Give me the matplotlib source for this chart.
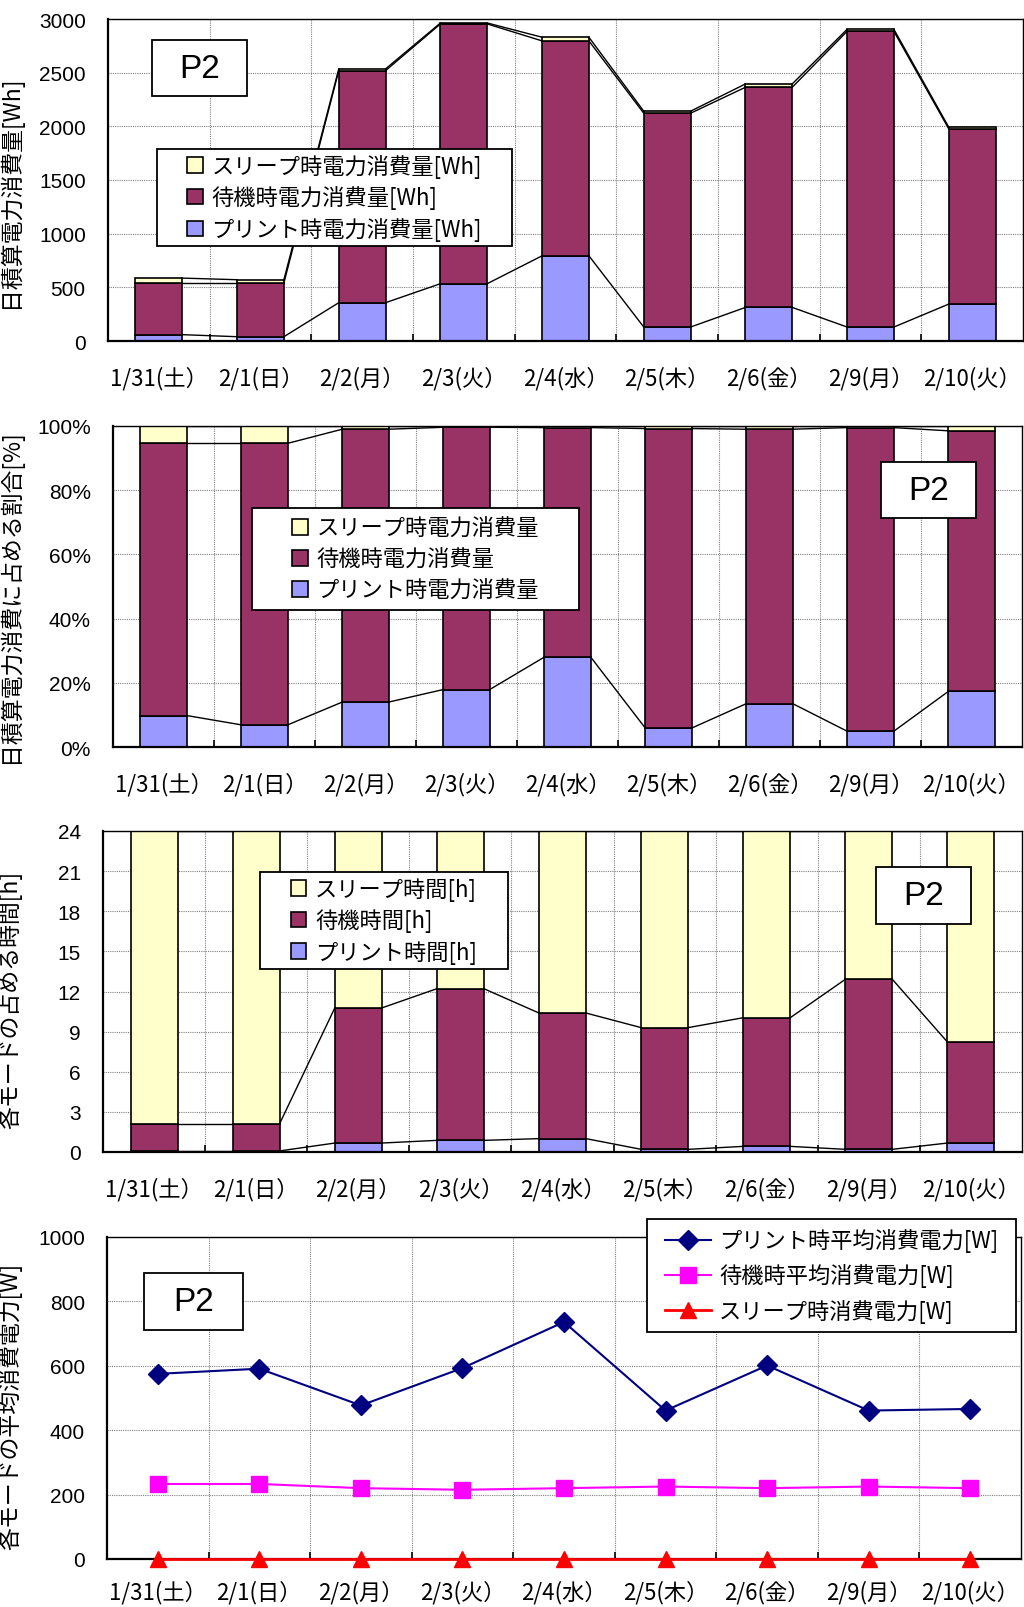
import numpy as np
import matplotlib
matplotlib.use("Agg")
import matplotlib.pyplot as plt
from matplotlib.patches import Rectangle
from matplotlib.ticker import FuncFormatter

plt.rcParams['font.family'] = ['Noto Sans CJK JP', 'DejaVu Sans']

days = ["1/31(土）", "2/1(日）", "2/2(月）", "2/3(火）", "2/4(水）",
        "2/5(木）", "2/6(金）", "2/9(月）", "2/10(火）"]

# daily energy [Wh]
print_wh = [59, 40, 357, 534, 794, 130, 313, 130, 344]
standby_wh = [481, 500, 2162, 2420, 2002, 1992, 2051, 2755, 1632]
sleep_wh = [46, 31, 16, 9, 34, 19, 31, 19, 16]

# share of daily energy [%]
print_pct = [9.8, 6.9, 14.0, 17.9, 28.0, 5.9, 13.5, 4.9, 17.3]
standby_pct = [84.8, 87.7, 85.0, 81.7, 71.5, 93.3, 85.5, 94.6, 81.2]
sleep_pct = [5.4, 5.4, 1.0, 0.4, 0.5, 0.8, 1.0, 0.5, 1.5]

# hours per mode [h]
print_h = [0.08, 0.08, 0.67, 0.87, 1.0, 0.2, 0.42, 0.2, 0.67]
standby_h = [2.04, 2.04, 10.10, 11.34, 9.39, 9.10, 9.62, 12.71, 7.55]
sleep_h = [21.88, 21.88, 13.23, 11.79, 13.61, 14.70, 13.96, 11.09, 15.78]

# average power [W]
print_w = [575, 591, 477, 593, 736, 461, 601, 461, 466]
standby_w = [233, 233, 220, 215, 220, 225, 220, 225, 220]
sleep_w = [0, 0, 0, 0, 0, 0, 0, 0, 0]

C_SLEEP = '#FFFFCC'
C_STANDBY = '#993366'
C_PRINT = '#9999FF'
NUMFONT = 'Liberation Sans'

W, H = 1024, 1608
fig = plt.figure(figsize=(W / 100, H / 100), dpi=100)
x = np.arange(len(days))
bw = 0.46


def axes_px(l, t, r, b):
    return fig.add_axes([l / W, 1 - b / H, (r - l) / W, (b - t) / H])


def frame(ax, l, t, r, b):
    ax.add_patch(Rectangle((l / W, 1 - b / H), (r - l) / W, (b - t) / H,
                           transform=fig.transFigure, facecolor='white',
                           edgecolor='black', lw=1.3, zorder=6, clip_on=False))


def p2_box(ax, l, t, r, b):
    frame(ax, l, t, r, b)
    ax.text((l + r) / 2 / W, 1 - (t + b) / 2 / H, "P2", transform=fig.transFigure,
            ha='center', va='center', fontsize=24, family=NUMFONT, zorder=7)


def boxed_legend(ax, handles, labels, l, t, r, b, **kw):
    frame(ax, l, t, r, b)
    leg = ax.legend(handles, labels, loc='center',
                    bbox_to_anchor=((l + r) / 2 / W, 1 - (t + b) / 2 / H),
                    bbox_transform=fig.transFigure, frameon=False, fontsize=16,
                    borderpad=0, **kw)
    leg.set_zorder(7)
    return leg


def style(ax, ymax, ystep, ylabel, ly, fmt=None, xpad=18):
    ax.set_xlim(-0.5, len(days) - 0.5)
    ax.set_ylim(0, ymax)
    ax.set_yticks(np.arange(0, ymax + ystep / 2, ystep))
    if fmt:
        ax.yaxis.set_major_formatter(FuncFormatter(fmt))
    ax.set_xticks(x)
    ax.set_xticklabels(days, fontsize=16)
    ax.set_xticks(x[:-1] + 0.5, minor=True)
    ax.tick_params(axis='x', which='major', length=0, pad=xpad)
    ax.tick_params(axis='x', which='minor', direction='in', length=5, width=1.2)
    ax.tick_params(axis='y', length=0, pad=16)
    for lab in ax.get_yticklabels():
        lab.set_family(NUMFONT)
        lab.set_fontsize(15)
    ax.grid(True, axis='y', which='major', color='#808080', lw=0.8, ls=(0, (1, 1)))
    ax.grid(True, axis='x', which='minor', color='#808080', lw=0.8, ls=(0, (1, 1)))
    ax.set_axisbelow(True)
    for s in ax.spines.values():
        s.set_color('black')
        s.set_linewidth(1.0)
    ax.spines['left'].set_linewidth(1.6)
    ax.spines['bottom'].set_linewidth(1.6)
    ax.set_ylabel(ylabel, fontsize=16.5)
    pos = ax.get_position()
    ax.yaxis.set_label_coords((22 / W - pos.x0) / pos.width, ly)


def stacked(ax, layers, colors):
    bottom = np.zeros(len(days))
    bars = []
    tops = []
    for vals, c in zip(layers, colors):
        vals = np.asarray(vals, float)
        bars.append(ax.bar(x, vals, bw, bottom=bottom, color=c,
                           edgecolor='black', lw=1.2, zorder=2))
        bottom = bottom + vals
        tops.append(bottom.copy())
    # series lines joining the segment tops of neighbouring bars
    for top in tops:
        for i in range(len(days) - 1):
            ax.plot([x[i] + bw / 2, x[i + 1] - bw / 2], [top[i], top[i + 1]],
                    color='black', lw=1.0, zorder=3)
    return bars


leg_kw = dict(handlelength=0.7, handleheight=0.7, handletextpad=0.4, labelspacing=0.36)

# 1) daily energy
ax1 = axes_px(108, 20, 1023, 342)
b = stacked(ax1, [print_wh, standby_wh, sleep_wh], [C_PRINT, C_STANDBY, C_SLEEP])
style(ax1, 3000, 500, "日積算電力消費量[Wh]", 0.466)
boxed_legend(ax1, [b[2], b[1], b[0]],
             ["スリープ時電力消費量[Wh]", "待機時電力消費量[Wh]", "プリント時電力消費量[Wh]"],
             157, 150, 512, 247, **leg_kw)
p2_box(ax1, 152, 41, 247, 97)

# 2) share of daily energy
ax2 = axes_px(113, 427, 1022, 748)
b = stacked(ax2, [print_pct, standby_pct, sleep_pct], [C_PRINT, C_STANDBY, C_SLEEP])
style(ax2, 100, 20, "日積算電力消費に占める割合[%]", 0.473, fmt=lambda v, p: f"{v:.0f}%")
boxed_legend(ax2, [b[2], b[1], b[0]],
             ["スリープ時電力消費量", "待機時電力消費量", "プリント時電力消費量"],
             252, 509, 579, 611, **leg_kw)
p2_box(ax2, 881, 463, 976, 519)

# 3) hours per mode
ax3 = axes_px(103, 832, 1022, 1153)
b = stacked(ax3, [print_h, standby_h, sleep_h], [C_PRINT, C_STANDBY, C_SLEEP])
style(ax3, 24, 3, "各モードの占める時間[h]", 0.477)
boxed_legend(ax3, [b[2], b[1], b[0]],
             ["スリープ時間[h]", "待機時間[h]", "プリント時間[h]"],
             260, 873, 508, 970, **leg_kw)
p2_box(ax3, 876, 868, 971, 925)

# 4) average power per mode
ax4 = axes_px(107, 1238, 1021, 1560)
l1, = ax4.plot(x, print_w, color='#000080', lw=1.5, marker='D', ms=10, zorder=4)
l2, = ax4.plot(x, standby_w, color='#FF00FF', lw=1.5, marker='s', ms=11, zorder=4)
l3, = ax4.plot(x, sleep_w, color='#FF0000', lw=2, marker='^', ms=12, zorder=5, clip_on=False)
style(ax4, 1000, 200, "各モードの平均消費電力[W]", 0.478, xpad=15)
boxed_legend(ax4, [l1, l2, l3],
             ["プリント時平均消費電力[W]", "待機時平均消費電力[W]", "スリープ時消費電力[W]"],
             647, 1220, 1016, 1333, handlelength=2.1, handletextpad=0.35, labelspacing=0.5)
p2_box(ax4, 144, 1274, 243, 1331)

fig.savefig("out.png", dpi=100)
